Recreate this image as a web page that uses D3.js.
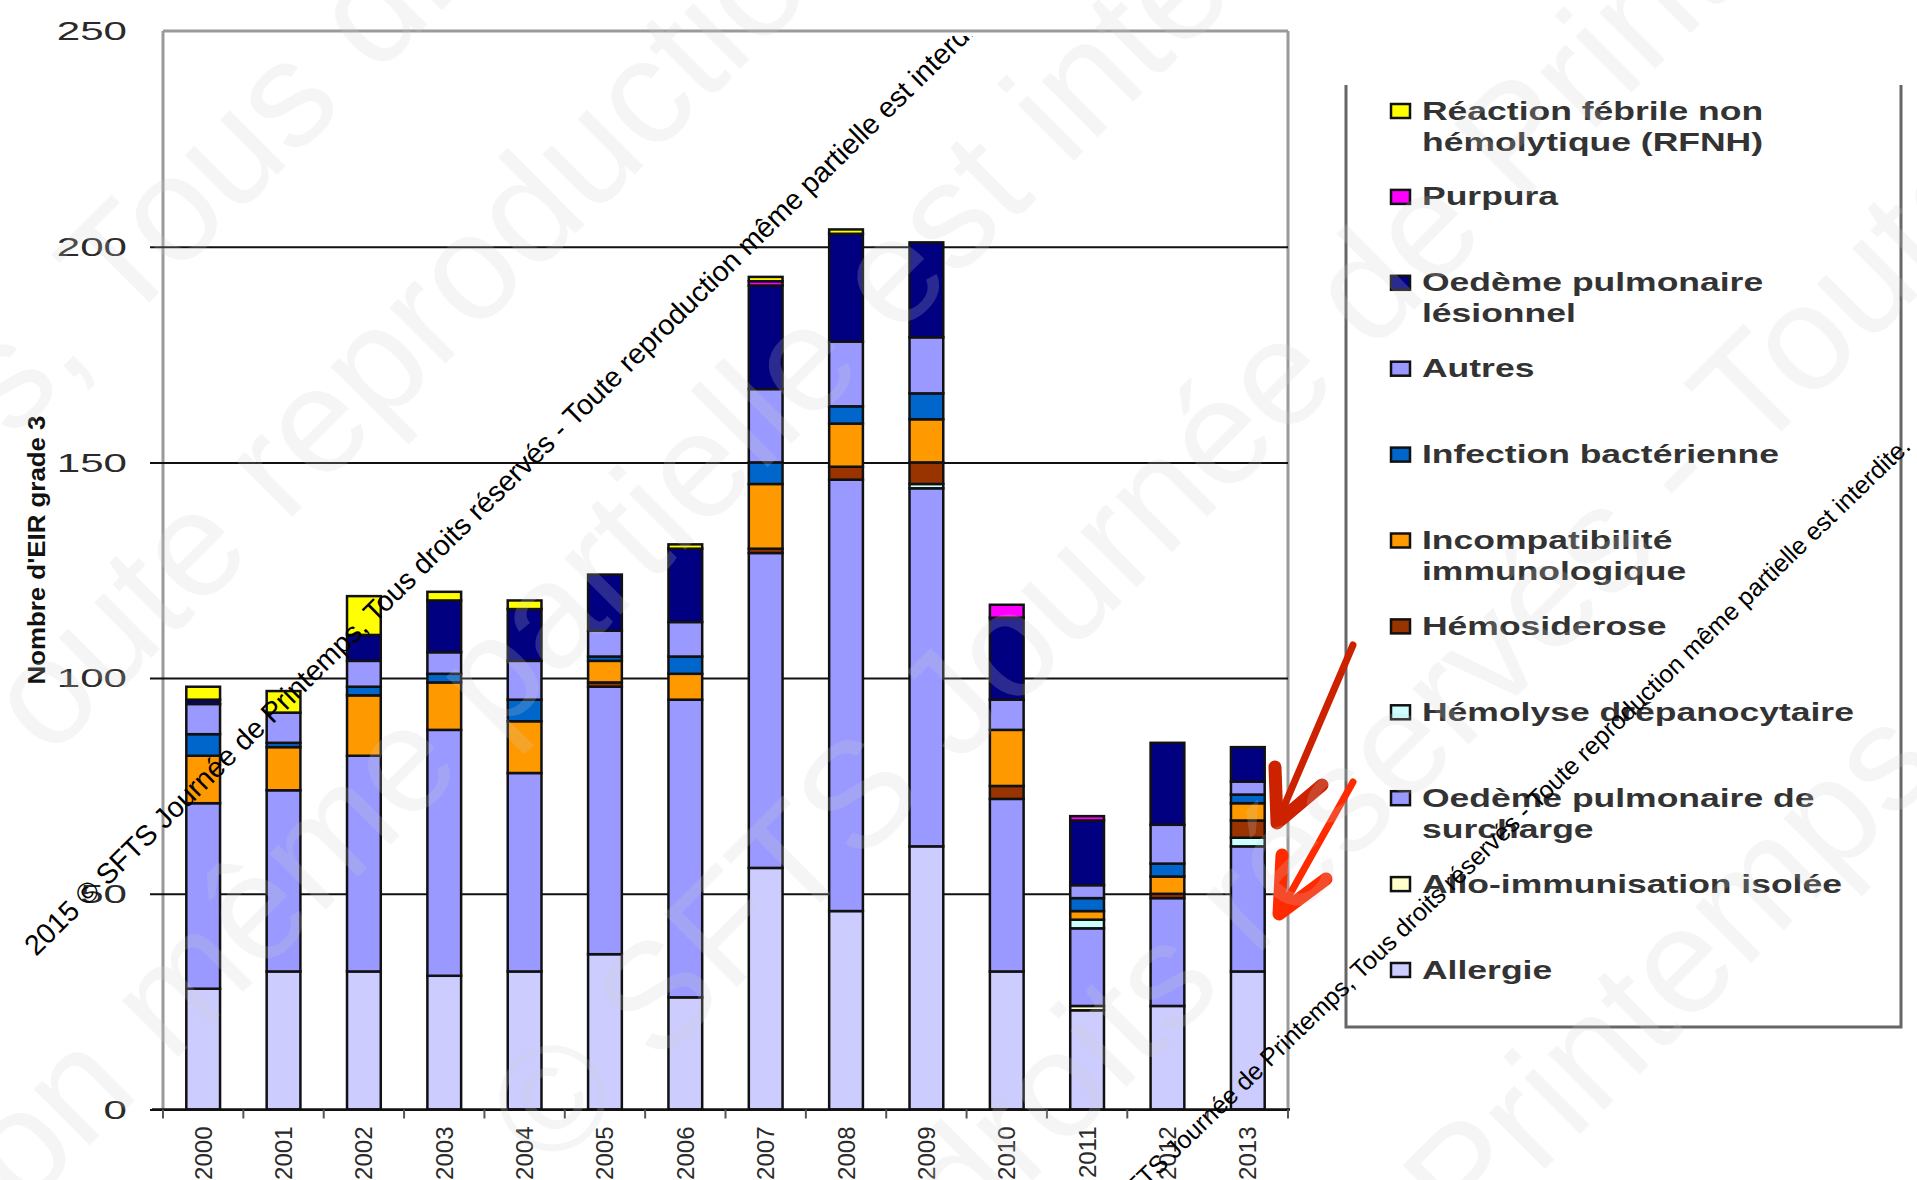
<!DOCTYPE html>
<html>
<head>
<meta charset="utf-8">
<script src="https://cdn.jsdelivr.net/npm/d3@7"></script>
<style>
  body { margin: 0; background: #fff; }
  svg { display: block; font-family: "Liberation Sans", Arial, sans-serif; }
</style>
</head>
<body>
<svg id="chart"></svg>
<script>
// years on the x axis
const years = ["2000","2001","2002","2003","2004","2005","2006","2007","2008","2009","2010","2011","2012","2013"];

// series, stacked bottom -> top
const allergie        = [28,32,32,31,32,36,26,56,46,61,32,23,24,32];
const alloImmun       = [0,0,0,0,0,0,0,0,0,0,0,1,0,0];
const oedemeSurcharge = [43,42,50,57,46,62,69,73,100,83,40,18,25,29];
const hemolyseDrepano = [0,0,0,0,0,0,0,0,0,1,0,2,0,2];
const hemosiderose    = [0,0,0,0,0,1,0,1,3,5,3,0,1,4];
const incompat        = [11,10,14,11,12,5,6,15,10,10,13,2,4,4];
const infection       = [5,1,2,2,5,1,4,5,4,6,0,3,3,2];
const autres          = [7,7,6,5,9,6,8,17,15,13,7,3,9,3];
const oedemeLesionnel = [1,0,6,12,12,13,17,24,25,22,19,15,19,8];
const purpura         = [0,0,0,0,0,0,0,1,0,0,3,1,0,0];
const rfnh            = [3,5,9,2,2,0,1,1,1,0,0,0,0,0];

const yTicks = [0,50,100,150,200,250];
const gridValues = [0,50,100,150,200];

const keys = ["allergie","allo","surcharge","hemolyse","hemosid","incompat","infection","autres","lesionnel","purpura","rfnh"];
const seriesValues = {
  allergie: allergie, allo: alloImmun, surcharge: oedemeSurcharge, hemolyse: hemolyseDrepano,
  hemosid: hemosiderose, incompat: incompat, infection: infection, autres: autres,
  lesionnel: oedemeLesionnel, purpura: purpura, rfnh: rfnh
};
const colors = {
  allergie: "#ccccff", allo: "#ffffcc", surcharge: "#9999ff", hemolyse: "#ccffff",
  hemosid: "#993300", incompat: "#ff9900", infection: "#0066cc", autres: "#9999ff",
  lesionnel: "#000080", purpura: "#ff00ff", rfnh: "#ffff00"
};
// legend, top -> bottom
const legendKeys = ["rfnh","purpura","lesionnel","autres","infection","incompat","hemosid","hemolyse","surcharge","allo","allergie"];
const legendLabels = [
  ["Réaction fébrile non", "hémolytique (RFNH)"],
  ["Purpura"],
  ["Oedème pulmonaire", "lésionnel"],
  ["Autres"],
  ["Infection bactérienne"],
  ["Incompatibilité", "immunologique"],
  ["Hémosiderose"],
  ["Hémolyse drépanocytaire"],
  ["Oedème pulmonaire de", "surcharge"],
  ["Allo-immunisation isolée"],
  ["Allergie"]
];

const width = 1917, height = 1180;
const plot = {left: 163, right: 1288, top: 31, bottom: 1109.5};

const svg = d3.select("#chart").attr("width", width).attr("height", height);

const table = years.map((yr, i) => {
  const row = {year: yr};
  keys.forEach(k => row[k] = seriesValues[k][i]);
  return row;
});
const stacked = d3.stack().keys(keys)(table);

const x = d3.scaleBand()
  .domain(years)
  .range([plot.left, plot.right])
  .paddingInner(0.58)
  .paddingOuter(0.29);

const y = d3.scaleLinear()
  .domain([0, 250])
  .range([plot.bottom, plot.top]);

// plot frame (grey)
const frame = svg.append("g").attr("stroke", "#9a9a9a").attr("stroke-width", 3);
frame.append("line").attr("x1", plot.left).attr("x2", plot.right).attr("y1", plot.top).attr("y2", plot.top);
frame.append("line").attr("x1", plot.right).attr("x2", plot.right).attr("y1", plot.top).attr("y2", plot.bottom);
frame.append("line").attr("x1", plot.left).attr("x2", plot.left).attr("y1", plot.top).attr("y2", plot.bottom);

// gridlines + ticks
svg.append("g")
  .attr("transform", "translate(150,0)")
  .call(d3.axisLeft(y).tickValues(gridValues).tickSize(-(plot.right - 150)).tickFormat(""))
  .call(g => g.select(".domain").remove())
  .selectAll("line").attr("stroke", "#111").attr("stroke-width", 2);

// y tick labels (stretched, like the picture)
svg.append("g").selectAll("g")
  .data(yTicks)
  .join("g")
  .attr("transform", d => `translate(127,${y(d)}) scale(1.62,1)`)
  .append("text")
  .attr("text-anchor", "end")
  .attr("dominant-baseline", "central")
  .attr("font-size", 26)
  .attr("fill", "#2a2a2a")
  .text(d => d);

// y axis title
svg.append("text")
  .attr("transform", "translate(45,550) rotate(-90)")
  .attr("text-anchor", "middle")
  .attr("font-size", 24)
  .attr("font-weight", "bold")
  .attr("textLength", 269)
  .attr("lengthAdjust", "spacingAndGlyphs")
  .attr("fill", "#111")
  .text("Nombre d'EIR grade 3");

// bars
svg.append("g")
  .selectAll("g")
  .data(stacked)
  .join("g")
  .attr("fill", d => colors[d.key])
  .selectAll("rect")
  .data(d => d.filter(s => s[1] - s[0] > 0))
  .join("rect")
  .attr("x", d => x(d.data.year))
  .attr("width", x.bandwidth())
  .attr("y", d => y(d[1]))
  .attr("height", d => y(d[0]) - y(d[1]))
  .attr("stroke", "#111")
  .attr("stroke-width", 2.5);

// x axis
const step = (plot.right - plot.left) / years.length;
svg.append("line")
  .attr("x1", 152).attr("x2", plot.right + 2)
  .attr("y1", plot.bottom).attr("y2", plot.bottom)
  .attr("stroke", "#111").attr("stroke-width", 2.5);
svg.append("g").selectAll("line")
  .data(d3.range(years.length + 1))
  .join("line")
  .attr("x1", i => plot.left + i * step).attr("x2", i => plot.left + i * step)
  .attr("y1", plot.bottom).attr("y2", plot.bottom + 9)
  .attr("stroke", "#555").attr("stroke-width", 2);

svg.append("g")
  .attr("transform", `translate(0,${plot.bottom})`)
  .call(d3.axisBottom(x).tickSize(0))
  .call(g => g.select(".domain").remove())
  .selectAll("text")
  .attr("font-size", 24)
  .attr("fill", "#2a2a2a")
  .attr("text-anchor", "end")
  .attr("dominant-baseline", "central")
  .attr("transform", "rotate(-90)")
  .attr("x", -17)
  .attr("y", 0)
  .attr("dx", 0).attr("dy", 0);

// legend box (no top edge)
const legend = svg.append("g");
legend.append("path")
  .attr("d", "M1346,85 V1027 H1901 V85")
  .attr("fill", "none")
  .attr("stroke", "#666")
  .attr("stroke-width", 3);

const item = legend.selectAll("g.item")
  .data(legendKeys)
  .join("g")
  .attr("class", "item")
  .attr("transform", (k, i) => `translate(1391,${111 + i * 85.9})`);
item.append("rect")
  .attr("x", 0).attr("y", -7)
  .attr("width", 19).attr("height", 14)
  .attr("fill", k => colors[k])
  .attr("stroke", "#111").attr("stroke-width", 2.5);
item.each(function(k, i) {
  const g = d3.select(this);
  legendLabels[i].forEach((line, j) => {
    g.append("g")
      .attr("transform", `translate(31,${j * 31}) scale(1.42,1)`)
      .append("text")
      .attr("dominant-baseline", "central")
      .attr("font-size", 25)
      .attr("font-weight", "bold")
      .attr("fill", "#333")
      .text(line);
  });
});

// red annotation arrows
const arrows = [
  {color: "#cc2200", shaft: [[1353,645],[1279,818]], head: [[1275,767],[1277,823],[1322,785]]},
  {color: "#ff2a00", shaft: [[1353,782],[1281,910]], head: [[1282,855],[1279,914],[1326,879]]}
];
const lineGen = d3.line();
arrows.forEach(a => {
  svg.append("path").attr("d", lineGen(a.shaft)).attr("stroke", a.color)
    .attr("stroke-width", 7).attr("fill", "none").attr("stroke-linecap", "round");
  svg.append("path").attr("d", lineGen(a.head)).attr("stroke", a.color)
    .attr("stroke-width", 13).attr("fill", "none")
    .attr("stroke-linecap", "round").attr("stroke-linejoin", "round");
});

// big faint watermark
const wmLines = [
  {text: "s, Tous droits réservés", x: 12, y: 440},
  {text: "oute reproduction même", x: 49, y: 760},
  {text: "ion même partielle est interdite.", x: 0, y: 1235},
  {text: "© SFTS Journée de Printemps, Tous", x: 550, y: 1174},
  {text: "droits réservés - Toute reproduction", x: 966, y: 1247},
  {text: "Printemps, Tous droits", x: 1467, y: 1247}
];
svg.append("g").selectAll("text")
  .data(wmLines)
  .join("text")
  .attr("transform", d => `translate(${d.x},${d.y}) rotate(-45)`)
  .attr("font-size", 150)
  .attr("fill", "#d0d0d0")
  .attr("opacity", 0.2)
  .text(d => d.text);

// small black copyright lines
svg.append("defs").append("clipPath").attr("id", "clipTop")
  .append("rect").attr("x", 0).attr("y", 36).attr("width", width).attr("height", height - 36);

const copyright = "2015 © SFTS Journée de Printemps, Tous droits réservés - Toute reproduction même partielle est interdite.";
svg.append("g").attr("clip-path", "url(#clipTop)")
  .append("text")
  .attr("transform", "translate(36,957) rotate(-44.5)")
  .attr("font-size", 28.5)
  .attr("fill", "#000")
  .text(copyright);
svg.append("text")
  .attr("transform", "translate(1912,448) rotate(-44)")
  .attr("text-anchor", "end")
  .attr("font-size", 25)
  .attr("fill", "#000")
  .text(copyright);
</script>
</body>
</html>
